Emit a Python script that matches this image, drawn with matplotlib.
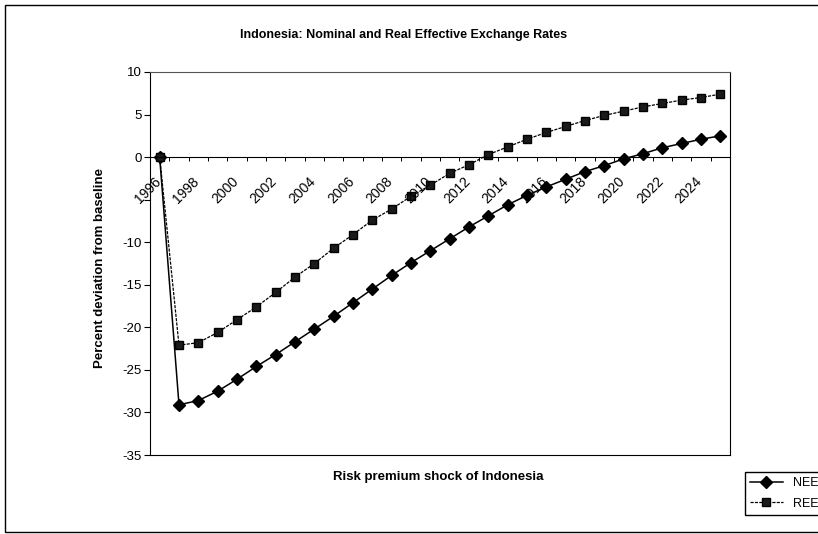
import matplotlib
matplotlib.use('Agg')
import matplotlib.pyplot as plt
import matplotlib.transforms as mtransforms
from matplotlib.patches import Rectangle
import numpy as np

plt.rcParams['font.family'] = ['Liberation Sans', 'DejaVu Sans']

# data
years = list(range(1996, 2026))
neer = [0, -29.1, -28.6, -27.5, -26.1, -24.6, -23.2, -21.7, -20.2, -18.7,
        -17.1, -15.5, -13.9, -12.4, -11.0, -9.6, -8.2, -6.9, -5.6, -4.5,
        -3.5, -2.6, -1.7, -1.0, -0.2, 0.4, 1.1, 1.6, 2.1, 2.5]
reer = [0, -22.1, -21.8, -20.6, -19.1, -17.6, -15.9, -14.1, -12.5, -10.7,
        -9.1, -7.4, -6.1, -4.6, -3.3, -1.9, -0.9, 0.3, 1.2, 2.1,
        2.9, 3.6, 4.3, 4.9, 5.4, 5.9, 6.3, 6.7, 7.0, 7.4]
yticks = [10, 5, 0, -5, -10, -15, -20, -25, -30, -35]
ylabels = ['10', '5', '0', '', '-10', '-15', '-20', '-25', '-30', '-35']

fig = plt.figure(figsize=(8.18, 5.34), dpi=100)
ax = fig.add_axes([150/818, 1 - 455/534, 580/818, 383/534])

x = np.arange(len(years))
ax.plot(x, neer, color='black', lw=1.1, marker='D', ms=6, label='NEER')
ax.plot(x, reer, color='black', lw=0.9, ls=(0, (2.5, 1)), marker='s', ms=6,
        mfc='#1a1a1a', mec='black', label='REER')

ax.set_xlim(-0.5, len(years) - 0.5)
ax.set_ylim(-35, 10)
ax.set_yticks(yticks)
ax.set_yticklabels(ylabels, fontsize=9.5)
ax.tick_params(axis='y', direction='out', length=4, width=0.8, pad=2)

# category axis sits on the zero line
ax.spines['bottom'].set_position(('data', 0))
ax.set_xticks([])
ax.set_xticks(np.arange(-0.5, len(years), 1), minor=True)
ax.tick_params(axis='x', which='minor', direction='out', length=3, width=0.7)
for s in ax.spines.values():
    s.set_linewidth(0.8)
ax.spines['top'].set_color('#555555')
ax.plot([0, 1], [0, 0], transform=ax.transAxes, color='black', lw=0.8, clip_on=False)

off = mtransforms.offset_copy(ax.transData, fig=fig, x=-6, y=-17, units='dots')
for i in range(0, len(years), 2):
    ax.text(i, 0, str(years[i]), transform=off, rotation=45, ha='right', va='top',
            rotation_mode='anchor', fontsize=10)

fig.text(404/818, 1 - 35/534, 'Indonesia: Nominal and Real Effective Exchange Rates',
         ha='center', va='center', fontsize=9, weight='bold')
fig.text(438/818, 1 - 477/534, 'Risk premium shock of Indonesia',
         ha='center', va='center', fontsize=9.5, weight='bold')
fig.text(100/818, 1 - 268/534, 'Percent deviation from baseline', rotation=90,
         ha='center', va='center', fontsize=9.5, weight='bold')

fig.legend(loc='upper left', bbox_to_anchor=(745/818, 1 - 472/534), fontsize=9,
           frameon=True, fancybox=False, edgecolor='black', framealpha=1,
           borderaxespad=0, handlelength=2.6, labelspacing=0.7)

# outer chart frame
fig.patches.append(Rectangle((5/818, 2/534), 1.0, 527/534, transform=fig.transFigure,
                             fill=False, lw=1, ec='black'))

fig.savefig('out.png', dpi=100)
